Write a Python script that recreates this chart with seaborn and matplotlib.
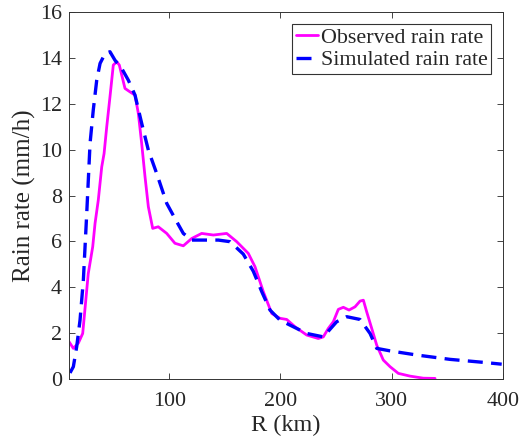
import numpy as np
import pandas as pd
import seaborn as sns
import matplotlib
matplotlib.use('Agg')
import matplotlib.pyplot as plt
from matplotlib.ticker import MultipleLocator

# observed rain rate (magenta)
r_obs = [10.0, 13.9, 18.4, 22.3, 27.3, 31.3, 33.4, 36.3, 39.4, 41.5, 43.9, 46.8, 49.8, 52.9,
         55.2, 60.3, 64.8, 69.3, 72.3, 75.3, 78.3, 81.3, 85.2, 90.2, 97.8, 105.2, 112.7,
         120.3, 129.2, 139.7, 151.7, 160.7, 171.1, 177.1, 184.6, 192.2, 199.6, 205.6,
         213.1, 223.6, 234.0, 238.5, 243.0, 247.5, 252.0, 256.5, 261.6, 267.0, 271.5,
         274.5, 277.5, 282.0, 286.5, 292.4, 298.5, 305.9, 316.4, 328.4, 338.9]
rain_obs = [1.63, 1.34, 1.57, 1.99, 4.6, 5.77, 6.79, 7.8, 9.25, 9.83, 11.0, 12.3, 13.69, 13.83,
            13.69, 12.67, 12.52, 12.38, 11.58, 10.27, 8.82, 7.51, 6.57, 6.64, 6.35, 5.92, 5.81,
            6.13, 6.35, 6.28, 6.35, 5.99, 5.48, 4.9, 3.81, 2.86, 2.65, 2.6,
            2.28, 1.92, 1.77, 1.84, 2.21, 2.5, 3.04, 3.13, 3.01, 3.15, 3.4,
            3.44, 2.93, 2.21, 1.48, 0.83, 0.54, 0.25, 0.13, 0.04, 0.03]

# simulated rain rate (blue dashed)
r_sim = [10.9, 13.9, 16.9, 19.9, 22.9, 25.9, 28.9, 31.8, 34.9, 37.9, 42.4, 46.8, 51.3, 57.4,
         63.3, 69.3, 75.3, 81.3, 88.8, 97.8, 105.2, 112.7, 120.3, 130.7, 144.2, 154.7,
         166.6, 175.6, 183.2, 190.6, 199.6, 211.6, 223.6, 238.5, 250.5, 259.5, 271.5,
         280.5, 286.5, 298.5, 322.4, 352.4, 382.3, 398.8]
rain_sim = [0.27, 0.54, 1.41, 2.57, 4.32, 7.2, 10.27, 11.73, 13.03, 13.76, 14.19, 14.27, 13.9, 13.54,
            13.03, 12.38, 11.15, 9.98, 8.96, 7.66, 7.0, 6.35, 6.06, 6.06, 6.06, 5.99,
            5.45, 4.7, 3.81, 3.01, 2.57, 2.28, 1.99, 1.84, 2.5, 2.72, 2.6,
            1.99, 1.34, 1.23, 1.05, 0.86, 0.73, 0.65]

sns.set_style('ticks')
plt.rcParams['font.family'] = ['Liberation Serif', 'DejaVu Serif']
plt.rcParams['xtick.direction'] = 'in'
plt.rcParams['ytick.direction'] = 'in'

fig = plt.figure(figsize=(5.24, 4.46), dpi=100)
ax = fig.add_axes([0.1317, 0.150, 0.8283, 0.823])

obs = pd.DataFrame({'R': r_obs, 'rain': rain_obs})
sim = pd.DataFrame({'R': r_sim, 'rain': rain_sim})
sns.lineplot(data=obs, x='R', y='rain', ax=ax, color='#ff00ff', linewidth=2.0,
             label='Observed rain rate')
sns.lineplot(data=sim, x='R', y='rain', ax=ax, color='#0000ff', linewidth=2.4,
             label='Simulated rain rate')
ax.lines[1].set_dashes([4.5, 2.5])

ax.set_xlim(10, 400)
ax.set_ylim(0, 16)
ax.set_xticks([100, 200, 300, 400])
ax.yaxis.set_major_locator(MultipleLocator(2))
ax.set_xlabel('R (km)', fontsize=17.5, labelpad=3)
ax.set_ylabel('Rain rate (mm/h)', fontsize=18, labelpad=3)
ax.tick_params(labelsize=15.8, top=True, right=True, length=4, width=0.6, color='#262626', pad=5)
ax.tick_params(axis='x', pad=9)
for s in ax.spines.values():
    s.set_color('#333333')
    s.set_linewidth(0.7)

leg = ax.legend(loc='upper right', fontsize=15.8, frameon=True, fancybox=False,
                edgecolor='black', handlelength=1.0, handletextpad=0.15,
                borderpad=0.15, borderaxespad=0.55, labelspacing=0.1)
leg.get_frame().set_linewidth(0.8)

plt.savefig('out.png', dpi=100)
